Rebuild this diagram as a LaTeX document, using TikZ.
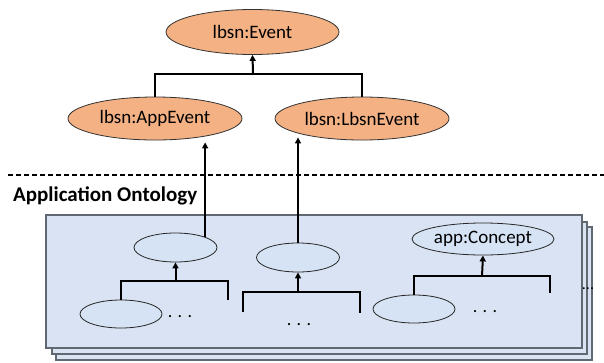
\documentclass[tikz,border=0pt]{standalone}
\usepackage{fontspec}
\setmainfont{Carlito}
\usetikzlibrary{positioning, calc, arrows.meta, shapes}
\definecolor{eventorange}{RGB}{244,177,131}
\definecolor{ontoblue}{RGB}{218,227,243}
\definecolor{conceptblue}{RGB}{213,227,245}
\definecolor{layergrey}{RGB}{96,104,114}
\tikzset{
	upper/.style={ellipse, draw=black!80, line width=0.8pt, fill=eventorange, minimum width=174pt, minimum height=43pt, inner sep=0pt, font=\fontsize{19}{21}\selectfont},
	lower/.style={ellipse, draw=black!85, line width=0.8pt, fill=conceptblue, minimum width=82pt, minimum height=28pt, inner sep=0pt, font=\fontsize{19}{21}\selectfont},
	layer/.style={draw=layergrey, line width=1.2pt, fill=ontoblue},
	link/.style={line width=2pt},
	isa/.style={line width=2pt, -{Triangle[length=6pt,width=6pt]}},
	dots/.style={font=\fontsize{18}{20}\selectfont, inner sep=0pt, anchor=base}
}
\begin{document}
\begin{tikzpicture}[x=1pt, y=-1pt]
		\useasboundingbox (0,0) rectangle (604,362);
		% upper ontology
		\node[upper, minimum width=173pt, minimum height=45pt] (event) at (252.5,32) {lbsn:Event};
		\node[upper] (appevent) at (155,118.5) {lbsn:AppEvent};
		\node[upper] (lbsnevent) at (362,118.5) {lbsn:LbsnEvent};
		\coordinate (forkE) at (253,74);
		\draw[link] (appevent.north) |- (forkE) -| (lbsnevent.north);
		\draw[isa] (forkE) -- (event.south);
		\draw[line width=2pt, dash pattern=on 5pt off 3pt] (8,175) -- (604,175);
		\node[font=\bfseries\fontsize{21}{23}\selectfont, anchor=base west, inner sep=0pt] (ontotitle) at (13,201) {Application Ontology};
		% stacked application ontologies
		\draw[layer] (56,227) rectangle (592,360);
		\draw[layer] (52,222) rectangle (587,354);
		\draw[layer] (46,215) rectangle (582,348);
		\node[dots, font=\fontsize{16}{18}\selectfont] (dotsE) at (588,289.5) {...};
		% left branch
		\node[lower, minimum width=83pt, minimum height=29pt] (subA) at (175.5,247.5) {};
		\node[lower] (subB) at (121,314) {};
		\node[dots] (dotsA) at (180,317.5) {. . .};
		\coordinate (forkA) at (175.5,281);
		\coordinate (openA) at (228,300);
		\draw[link] (subB.north) |- (forkA) -| (openA);
		\draw[isa] (forkA) -- (subA.south);
		\draw[isa, shorten >=2pt] (subA.north east) -- (subA.north east |- appevent.south);
		% middle branch
		\node[lower, minimum width=83pt, minimum height=29pt] (subC) at (298,257.5) {};
		\node[dots] (dotsC) at (299,325.5) {. . .};
		\coordinate (forkC) at (298,292);
		\coordinate (openL) at (243,312);
		\coordinate (openR) at (360,313);
		\draw[link] (openL) |- (forkC) -| (openR);
		\draw[isa] (forkC) -- (subC.south);
		\draw[isa, shorten >=-3pt] (subC.north) -- (subC.north |- lbsnevent.south);
		% right branch
		\node[lower, minimum width=142pt, minimum height=32pt] (concept) at (483,239) {app:Concept};
		\node[lower] (subD) at (414,309) {};
		\node[dots] (dotsD) at (485,312) {. . .};
		\coordinate (forkD) at (482,276);
		\coordinate (openD) at (550,293);
		\draw[link] (subD.north) |- (forkD) -| (openD);
		\draw[isa] (forkD) -- (concept.south);
\end{tikzpicture}
\end{document}
